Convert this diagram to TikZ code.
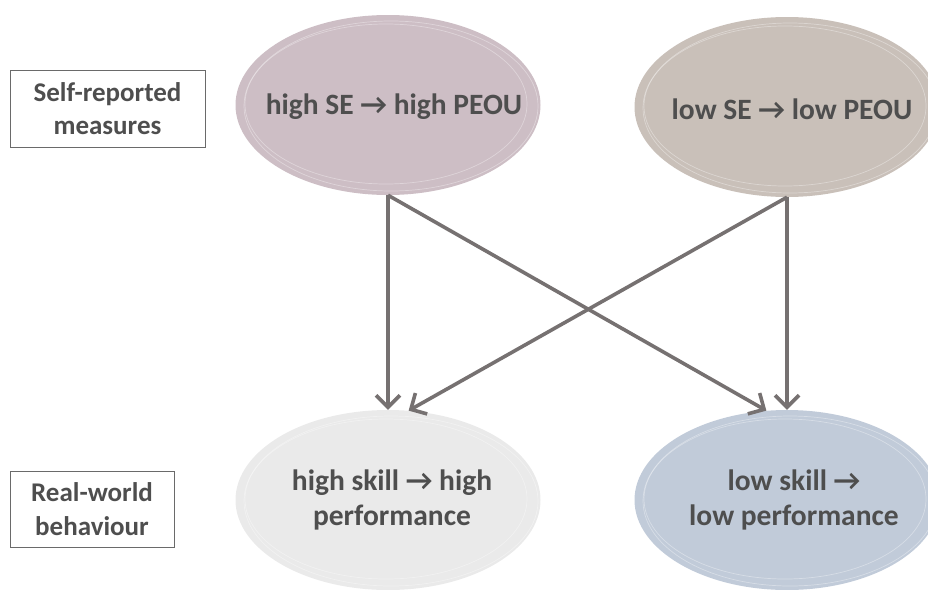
\documentclass[tikz,border=0pt]{standalone}
\usepackage{fontspec}
\setmainfont{Carlito}
\usetikzlibrary{shapes.geometric,arrows.meta}
\definecolor{txt}{HTML}{4E4E4E}
\definecolor{arrowc}{HTML}{767171}
\definecolor{tlfill}{HTML}{CDBEC5}
\definecolor{trfill}{HTML}{C9C0B9}
\definecolor{blfill}{HTML}{EAEAEA}
\definecolor{brfill}{HTML}{C1CBD9}
\definecolor{boxline}{HTML}{6A6A6A}
\tikzset{
  oval/.style={ellipse, minimum width=305pt, minimum height=180pt, inner sep=0pt},
  ovaltext/.style={align=center, text=txt, inner sep=0pt, font=\fontsize{29.5}{35}\selectfont\bfseries},
  ring/.style={draw=white, line width=0.7pt, opacity=0.35},
  labelbox/.style={draw=boxline, line width=0.8pt, align=center, text=txt, inner sep=0pt,
    font=\fontsize{27}{33.5}\selectfont\bfseries},
  flow/.style={draw=arrowc, line width=3.6pt, -{Straight Barb[length=12pt,width=24pt,line width=3.6pt]}}
}
\begin{document}
\begin{tikzpicture}[x=1pt,y=-1pt]
\useasboundingbox (0,0) rectangle (928,589);
% ellipses
\node[oval, fill=tlfill] (tl) at (388,105) {};
\node[oval, fill=trfill] (tr) at (787,107) {};
\node[oval, fill=blfill] (bl) at (388,500) {};
\node[oval, fill=brfill] (br) at (787,500) {};
% bevel rings
\foreach \x/\y in {388/105, 787/107, 388/500, 787/500}{
  \draw[ring] (\x+3,\y+1) ellipse [x radius=147pt, y radius=85pt];
  \draw[ring] (\x-2,\y-1) ellipse [x radius=141pt, y radius=80pt];
}
% texts
\node[ovaltext] (tlt) at ([xshift=6pt,yshift=-2pt]tl.center) {high SE \textrightarrow\ high PEOU};
\node[ovaltext] (trt) at ([xshift=5pt,yshift=-2pt]tr.center) {low SE \textrightarrow\ low PEOU};
\node[ovaltext] (blt) at ([xshift=4pt]bl.center) {high skill \textrightarrow\ high\\performance};
\node[ovaltext] (brt) at ([xshift=7pt]br.center) {low skill \textrightarrow\\low performance};
% label boxes
\node[labelbox, minimum width=195pt, minimum height=77pt] (self) at (107.5,108.5) {Self-reported\\measures};
\node[labelbox, minimum width=164pt, minimum height=76pt] (real) at (92,509) {Real-world\\behaviour};
% arrows
\draw[flow] (tl.south) -- (bl.north);
\draw[flow] (tl.south) -- (br.103);
\draw[flow] (tr.south) -- (br.north);
\draw[flow] (tr.south) -- (bl.77);
\end{tikzpicture}
\end{document}
